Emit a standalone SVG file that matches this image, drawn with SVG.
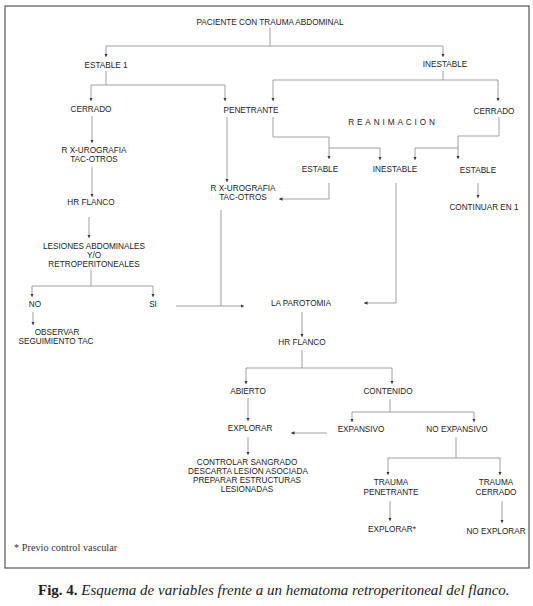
<svg xmlns="http://www.w3.org/2000/svg" width="533" height="606" viewBox="0 0 533 606">
<defs>
<marker id="a" viewBox="0 0 6 6" refX="6" refY="3" markerWidth="3.5" markerHeight="3.5" orient="auto" markerUnits="userSpaceOnUse"><path d="M0,0 L6,3 L0,6 z" fill="#333"/></marker>
<style>
.t{font-family:"Liberation Sans",Arial,sans-serif;font-size:8.2px;fill:#222;text-anchor:middle}
.c path{fill:none;stroke:#888;stroke-width:0.8}
.c path.ar{marker-end:url(#a)}
</style>
</defs>
<rect width="533" height="606" fill="#fff"/>
<rect x="5" y="6" width="524" height="562" fill="none" stroke="#555" stroke-width="1.2"/>
<g class="c" id="connectors">
<path class="ar" d="M270,28 V46 H106 V57"/>
<path class="ar" d="M270,46 H443 V57"/>
<path class="ar" d="M106,71 V85 H91 V101"/>
<path class="ar" d="M106,85 H225 V101"/>
<path class="ar" d="M443,71 V80 H273 V101"/>
<path class="ar" d="M443,80 H498 V101"/>
<path class="ar" d="M273,117 V137 H329 V159"/>
<path class="ar" d="M329,148 H380 V160"/>
<path class="ar" d="M499,117 V136 H458 V159"/>
<path class="ar" d="M458,148 H415 V160"/>
<path class="ar" d="M329,183 V199 H279"/>
<path class="ar" d="M396,183 V303 H364"/>
<path class="ar" d="M478,183 V198"/>
<path class="ar" d="M92,116 V143"/>
<path class="ar" d="M92,167 V197"/>
<path class="ar" d="M89,217 V238"/>
<path class="ar" d="M91,270 V286 H32 V297"/>
<path class="ar" d="M91,286 H153 V297"/>
<path class="ar" d="M33,312 V325"/>
<path class="ar" d="M176,306 H244"/>
<path d="M221,210 V306"/>
<path class="ar" d="M227,117 V182"/>
<path class="ar" d="M302,312 V337"/>
<path class="ar" d="M302,350 V368 H246 V384"/>
<path class="ar" d="M302,368 H392 V384"/>
<path class="ar" d="M248,398 V421"/>
<path class="ar" d="M390,399 V412 H352 V422"/>
<path class="ar" d="M390,412 H474 V422"/>
<path class="ar" d="M327,433 H291"/>
<path class="ar" d="M248,437 V455"/>
<path class="ar" d="M456,437 V458 H388 V475"/>
<path class="ar" d="M456,458 H500 V475"/>
<path class="ar" d="M390,501 V521"/>
<path class="ar" d="M502,501 V523"/>
</g>
<g id="n-paciente"><text class="t" x="270" y="25">PACIENTE CON TRAUMA ABDOMINAL</text></g>
<g id="n-estable1"><text class="t" x="106" y="68">ESTABLE 1</text></g>
<g id="n-inestable"><text class="t" x="445" y="67">INESTABLE</text></g>
<g id="n-cerrado-l"><text class="t" x="91" y="112">CERRADO</text></g>
<g id="n-penetrante"><text class="t" x="251" y="113">PENETRANTE</text></g>
<g id="n-cerrado-r"><text class="t" x="494" y="114">CERRADO</text></g>
<g id="n-reanimacion"><text class="t" x="393" y="125" style="letter-spacing:2.9px">REANIMACION</text></g>
<g id="n-estable-l"><text class="t" x="320" y="172">ESTABLE</text></g>
<g id="n-inestable-m"><text class="t" x="395" y="172">INESTABLE</text></g>
<g id="n-estable-r"><text class="t" x="478" y="173">ESTABLE</text></g>
<g id="n-continuar"><text class="t" x="484" y="210">CONTINUAR EN 1</text></g>
<g id="n-rx-l"><text class="t" x="94" y="153">R X-UROGRAFIA</text><text class="t" x="94" y="162">TAC-OTROS</text></g>
<g id="n-hr-l"><text class="t" x="91" y="205">HR FLANCO</text></g>
<g id="n-lesiones"><text class="t" x="94" y="249">LESIONES ABDOMINALES</text><text class="t" x="94" y="258">Y/O</text><text class="t" x="94" y="267">RETROPERITONEALES</text></g>
<g id="n-no"><text class="t" x="35" y="307">NO</text></g>
<g id="n-si"><text class="t" x="153" y="307">SI</text></g>
<g id="n-observar"><text class="t" x="57" y="335">OBSERVAR</text><text class="t" x="56" y="344">SEGUIMIENTO TAC</text></g>
<g id="n-rx-m"><text class="t" x="243" y="191">R X-UROGRAFIA</text><text class="t" x="243" y="200">TAC-OTROS</text></g>
<g id="n-laparotomia"><text class="t" x="301" y="306">LA PAROTOMIA</text></g>
<g id="n-hr-m"><text class="t" x="302" y="345">HR FLANCO</text></g>
<g id="n-abierto"><text class="t" x="248" y="394">ABIERTO</text></g>
<g id="n-contenido"><text class="t" x="388" y="394">CONTENIDO</text></g>
<g id="n-explorar"><text class="t" x="250" y="431">EXPLORAR</text></g>
<g id="n-expansivo"><text class="t" x="361" y="432">EXPANSIVO</text></g>
<g id="n-noexpansivo"><text class="t" x="457" y="432">NO EXPANSIVO</text></g>
<g id="n-controlar"><text class="t" x="247" y="465">CONTROLAR SANGRADO</text><text class="t" x="248" y="474">DESCARTA LESION ASOCIADA</text><text class="t" x="247" y="483">PREPARAR ESTRUCTURAS</text><text class="t" x="247" y="492">LESIONADAS</text></g>
<g id="n-trauma-pen"><text class="t" x="391" y="485">TRAUMA</text><text class="t" x="391" y="495">PENETRANTE</text></g>
<g id="n-trauma-cer"><text class="t" x="496" y="485">TRAUMA</text><text class="t" x="496" y="495">CERRADO</text></g>
<g id="n-explorar2"><text class="t" x="392" y="532">EXPLORAR*</text></g>
<g id="n-noexplorar"><text class="t" x="496" y="534">NO EXPLORAR</text></g>
<text x="14" y="551" style="font-family:'Liberation Serif','Times New Roman',serif;font-size:10.3px;fill:#333">* Previo control vascular</text>
<text x="38" y="595" style="font-family:'Liberation Serif','Times New Roman',serif;font-size:15px;fill:#222"><tspan font-weight="bold">Fig. 4.</tspan> <tspan font-style="italic">Esquema de variables frente a un hematoma retroperitoneal del flanco.</tspan></text>
</svg>
